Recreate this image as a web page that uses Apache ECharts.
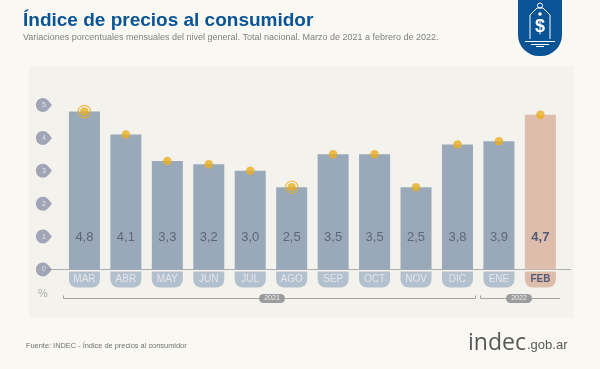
<!DOCTYPE html>
<html>
<head>
<meta charset="utf-8">
<title>Índice de precios al consumidor</title>
<script src="https://cdn.jsdelivr.net/npm/echarts@6/dist/echarts.min.js"></script>
<style>
html,body{margin:0;padding:0;background:#f9f8f2;}
#chart{width:600px;height:369px;}
</style>
</head>
<body>
<div id="chart"></div>
<script>
var months = ['MAR','ABR','MAY','JUN','JUL','AGO','SEP','OCT','NOV','DIC','ENE','FEB'];
var values = [4.8,4.1,3.3,3.2,3.0,2.5,3.5,3.5,2.5,3.8,3.9,4.7];
var ticks = [0,1,2,3,4,5];
var ringed = ['MAR','AGO'];
var current = 'FEB';

var chart = echarts.init(document.getElementById('chart'));
var font = '"Liberation Sans",Arial,sans-serif';
var ink = '#525c78';

// bars: el ultimo mes va en otro color
var barData = [];
for (var i = 0; i < values.length; i++) {
	barData.push({
		value: values[i],
		itemStyle: { color: months[i] == current ? '#dfbdac' : '#99a9ba' },
		label: {
			fontWeight: months[i] == current ? 'bold' : 'normal',
			color: months[i] == current ? ink : '#5c667e'
		}
	});
}
var ringData = [];
for (var i = 0; i < months.length; i++) {
	if (ringed.indexOf(months[i]) >= 0) ringData.push([months[i], values[i]]);
}
var tickData = [];
for (var i = 0; i < ticks.length; i++) tickData.push([months[0], ticks[i]]);

function comma(v) { return v.toFixed(1).replace('.', ','); }

chart.setOption({
	backgroundColor: '#f9f8f2',
	animation: false,
	textStyle: { fontFamily: font },
	title: [
		{ text: 'Índice de precios al consumidor', left: 23, top: 11, padding: 0,
			textStyle: { color: '#0a5394', fontSize: 19, fontWeight: 'bold', fontFamily: font } },
		{ text: 'Variaciones porcentuales mensuales del nivel general. Total nacional. Marzo de 2021 a febrero de 2022.', left: 23, top: 33, padding: 0,
			textStyle: { color: '#808083', fontSize: 9, fontWeight: 'normal', fontFamily: font } },
		{ text: 'Fuente: INDEC - Índice de precios al consumidor', left: 26, top: 342, padding: 0,
			textStyle: { color: '#707074', fontSize: 7.4, fontWeight: 'normal', fontFamily: font } }
	],
	grid: { left: 63.7, width: 497.4, top: 105, height: 164.5 },
	xAxis: {
		type: 'category',
		data: months,
		axisLine: { show: false },
		axisTick: { show: false },
		axisLabel: {
			interval: 0,
			margin: 2,
			formatter: function (v) {
				return v == current ? '{now|' + v + '}' : '{tab|' + v + '}';
			},
			rich: {
				tab: { width: 31, height: 16, lineHeight: 16, align: 'center', fontSize: 10, color: '#e3e7ec',
					backgroundColor: '#b3c0ce', borderRadius: [0, 0, 8, 8] },
				now: { width: 31, height: 16, lineHeight: 16, align: 'center', fontSize: 10, fontWeight: 'bold', color: ink,
					backgroundColor: '#dfbdac', borderRadius: [0, 0, 8, 8] }
			}
		}
	},
	yAxis: {
		type: 'value',
		min: 0,
		max: 5,
		interval: 1,
		axisLine: { show: false },
		axisTick: { show: false },
		axisLabel: { show: false },
		splitLine: { show: false }
	},
	series: [
		{
			type: 'bar',
			data: barData,
			barWidth: 31,
			z: 2,
			label: {
				show: true,
				position: 'insideBottom',
				distance: 26,
				fontSize: 13,
				formatter: function (p) { return comma(p.value); }
			}
		},
		{
			// marca naranja arriba de cada barra
			type: 'scatter',
			data: values,
			symbol: 'circle',
			symbolSize: 8.5,
			itemStyle: { color: '#e8ae22' },
			clip: false,
			z: 4
		},
		{
			type: 'scatter',
			data: ringData,
			symbol: 'circle',
			symbolSize: 12.5,
			itemStyle: { color: 'rgba(0,0,0,0)', borderColor: '#e8ae22', borderWidth: 1.2 },
			clip: false,
			z: 4
		},
		{
			// etiquetas del eje, gota gris
			type: 'scatter',
			data: tickData,
			symbol: 'path://M8 0C12 0 15 4 18 8C15 12 12 16 8 16C3.5 16 0 12.5 0 8C0 3.5 3.5 0 8 0Z',
			symbolSize: [16, 14],
			symbolOffset: [-40.5, 0],
			itemStyle: { color: '#8d91a8' },
			clip: false,
			z: 5,
			label: {
				show: true,
				position: 'inside',
				fontSize: 7,
				color: '#f3f3f6',
				formatter: function (p) { return String(p.value[1]); }
			}
		}
	],
	graphic: [
		{ type: 'rect', z: -10, shape: { x: 29, y: 66, width: 545, height: 252 }, style: { fill: '#f3f2ec' } },
		{ type: 'line', z: 1, shape: { x1: 44, y1: 269.5, x2: 571, y2: 269.5 }, style: { stroke: '#a9aeb4', lineWidth: 1 } },
		{ type: 'text', x: 38, y: 288, style: { text: '%', font: '11px ' + font, fill: '#aeb0b4' } },
		// llaves de año
		{ type: 'polyline', shape: { points: [[63.5, 295.5], [63.5, 298.5], [475.5, 298.5], [475.5, 295.5]] }, style: { stroke: '#a5a5a5', lineWidth: 1, fill: null } },
		{ type: 'polyline', shape: { points: [[480.5, 295.5], [480.5, 298.5], [560, 298.5]] }, style: { stroke: '#a5a5a5', lineWidth: 1, fill: null } },
		{ type: 'rect', shape: { x: 259, y: 294, width: 26, height: 9, r: 4.5 }, style: { fill: '#9c9c9c' } },
		{ type: 'text', x: 272, y: 298.5, style: { text: '2021', font: '7px ' + font, fill: '#eeeeee', align: 'center', verticalAlign: 'middle' } },
		{ type: 'rect', shape: { x: 506, y: 294, width: 26, height: 9, r: 4.5 }, style: { fill: '#9c9c9c' } },
		{ type: 'text', x: 519, y: 298.5, style: { text: '2022', font: '7px ' + font, fill: '#eeeeee', align: 'center', verticalAlign: 'middle' } },
		// logo
		{ type: 'text', x: 468, y: 332, style: { text: 'indec', font: '23px "Open Sans",' + font, fill: '#58585a' } },
		{ type: 'text', x: 527, y: 339, style: { text: '.gob.ar', font: '13px ' + font, fill: '#58585a' } },
		// icono etiqueta de precio
		{ type: 'rect', shape: { x: 518, y: -22, width: 44, height: 78, r: 21 }, style: { fill: '#0a5394' } },
		{ type: 'polyline', shape: { points: [[530, 39], [530, 15], [537, 8], [543, 8], [550, 15], [550, 39]] }, style: { stroke: '#ffffff', lineWidth: 1, fill: null } },
		{ type: 'circle', shape: { cx: 540, cy: 5.5, r: 2.5 }, style: { stroke: '#ffffff', lineWidth: 1, fill: null } },
		{ type: 'circle', shape: { cx: 540, cy: 14, r: 1.8 }, style: { fill: '#ffffff' } },
		{ type: 'text', x: 540, y: 27, style: { text: '$', font: 'bold 18px ' + font, fill: '#ffffff', align: 'center', verticalAlign: 'middle' } },
		{ type: 'line', shape: { x1: 525, y1: 41.5, x2: 555, y2: 41.5 }, style: { stroke: '#ffffff', lineWidth: 1 } },
		{ type: 'line', shape: { x1: 531, y1: 44.5, x2: 549, y2: 44.5 }, style: { stroke: '#ffffff', lineWidth: 1 } },
		{ type: 'line', shape: { x1: 536, y1: 46.5, x2: 544, y2: 46.5 }, style: { stroke: '#ffffff', lineWidth: 1 } }
	]
});
</script>
</body>
</html>
